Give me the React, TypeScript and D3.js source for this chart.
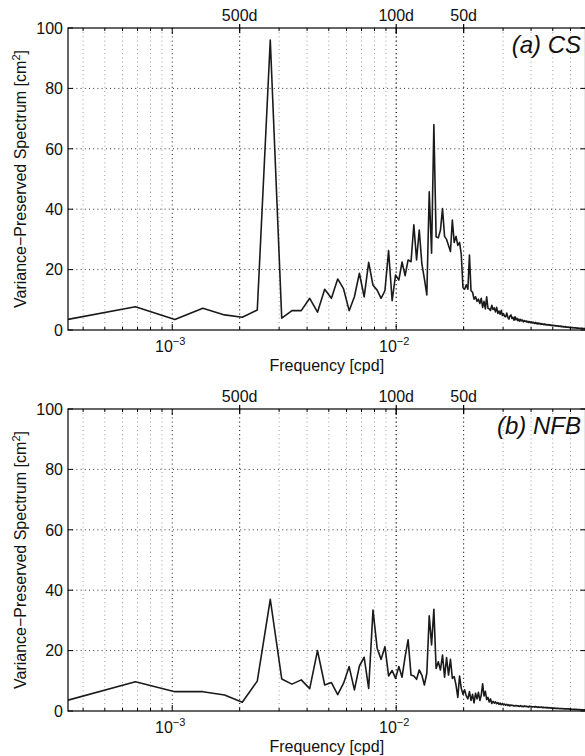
import React from "react";
import * as d3 from "d3";

// Frequency resolution of the spectra (8-year record): f_k = k * FREQ_STEP, k = 1..N
const FREQ_STEP = 1 / 2920;
const X_MAX = 0.07;

// (a) CS – variance-preserved spectrum [cm^2], k = 1..204
const csValues = [
  3.5, 7.7, 3.5, 7.2, 5.0, 4.2, 6.6, 96, 3.9, 6.4,
  6.4, 10.5, 5.9, 13.5, 10.5, 16.9, 13.6, 6.4, 11.0, 18.8,
  11.0, 22.4, 14.8, 13.2, 10.5, 13.0, 26.3, 9.7, 18.2, 16.5,
  22.5, 18.0, 23.2, 22.6, 34.8, 23.2, 33.1, 22.0, 17.0, 11.6,
  45.8, 25.4, 68.0, 30.9, 30.5, 33.0, 40.2, 31.0, 30.0, 28.0,
  26.0, 36.4, 29.0, 31.0, 28.0, 29.0, 25.0, 14.0, 13.5, 15.0,
  13.5, 24.8, 13.0, 12.5, 10.2, 11.0, 9.5, 10.2, 8.8, 10.5,
  7.5, 9.5, 7.0, 11.0, 7.2, 7.0, 6.5, 8.2, 6.8, 7.3,
  6.0, 7.5, 5.5, 6.3, 5.2, 6.5, 4.8, 5.4, 4.5, 4.4,
  5.6, 4.2, 3.6, 4.6, 5.0, 3.8, 4.2, 3.2, 4.4, 3.4,
  3.9, 3.1, 3.6, 2.9, 3.5, 3.0, 3.3, 2.7, 3.1, 2.8,
  3.0, 2.6, 2.9, 2.5, 2.8, 2.4, 2.7, 2.3, 2.6, 2.4,
  2.2, 2.5, 2.1, 2.4, 2.0, 2.3, 2.0, 2.2, 1.9, 2.1,
  1.9, 2.0, 1.8, 2.0, 1.7, 1.9, 1.7, 1.8, 1.6, 1.8,
  1.6, 1.7, 1.5, 1.6, 1.5, 1.6, 1.4, 1.5, 1.4, 1.5,
  1.3, 1.4, 1.3, 1.4, 1.2, 1.3, 1.2, 1.3, 1.1, 1.2,
  1.1, 1.2, 1.0, 1.1, 1.0, 1.1, 0.9, 1.0, 0.9, 1.0,
  0.9, 0.95, 0.8, 0.9, 0.8, 0.85, 0.75, 0.85, 0.7, 0.8,
  0.7, 0.75, 0.65, 0.7, 0.65, 0.7, 0.6, 0.65, 0.6, 0.65,
  0.55, 0.6, 0.55, 0.6, 0.5, 0.55, 0.5, 0.55, 0.5, 0.5,
  0.45, 0.5, 0.45, 0.45,
];

// (b) NFB – variance-preserved spectrum [cm^2], k = 1..204
const nfbValues = [
  3.6, 9.7, 6.4, 6.4, 5.3, 2.9, 9.9, 37.0, 10.6, 8.9,
  10.3, 7.4, 20.0, 8.6, 9.4, 5.4, 9.2, 14.7, 7.0, 14.9,
  17.8, 7.5, 33.4, 20.8, 17.1, 21.3, 11.6, 13.4, 10.8, 14.7,
  11.2, 18.0, 23.6, 11.9, 11.6, 10.5, 13.6, 11.9, 8.6, 12.5,
  31.5, 21.9, 33.7, 14.1, 16.3, 13.6, 18.5, 11.2, 17.7, 11.9,
  17.1, 10.8, 11.4, 8.6, 4.5, 11.6, 7.5, 5.5, 7.0, 5.0,
  4.0, 6.4, 3.5, 5.5, 2.7, 5.9, 4.0, 6.2, 3.5, 5.3,
  9.0, 5.0, 6.5, 3.8, 4.5, 3.0, 4.0, 2.5, 3.2, 2.6,
  3.0, 2.4, 2.8, 2.2, 2.6, 2.1, 2.5, 2.0, 2.3, 1.9,
  2.2, 1.8, 2.1, 1.7, 2.0, 1.8, 1.9, 1.6, 1.8, 1.7,
  1.8, 1.6, 1.7, 1.5, 1.8, 1.5, 1.6, 1.4, 1.7, 1.5,
  1.6, 1.4, 1.5, 1.3, 1.6, 1.4, 1.5, 1.3, 1.4, 1.4,
  1.3, 1.5, 1.3, 1.4, 1.2, 1.4, 1.2, 1.3, 1.2, 1.3,
  1.1, 1.3, 1.1, 1.2, 1.1, 1.2, 1.0, 1.2, 1.0, 1.1,
  1.0, 1.1, 0.95, 1.05, 0.9, 1.0, 0.9, 1.0, 0.85, 0.95,
  0.85, 0.9, 0.8, 0.9, 0.8, 0.85, 0.75, 0.85, 0.75, 0.8,
  0.75, 0.8, 0.7, 0.75, 0.7, 0.75, 0.65, 0.7, 0.65, 0.7,
  0.65, 0.7, 0.6, 0.65, 0.6, 0.65, 0.6, 0.6, 0.55, 0.6,
  0.55, 0.6, 0.5, 0.55, 0.5, 0.55, 0.5, 0.5, 0.45, 0.5,
  0.45, 0.5, 0.45, 0.45, 0.4, 0.45, 0.4, 0.45, 0.4, 0.4,
  0.4, 0.4, 0.35, 0.4,
];

const yTicks = [0, 20, 40, 60, 80, 100];
const decadeTicks = [1e-3, 1e-2];
const decadeExponents = ["−3", "−2"];
const periodDays = [500, 100, 50];
const periodLabels = ["500d", "100d", "50d"];
const panelLabels = ["(a) CS", "(b) NFB"];

const W = 585;
const H = 756;
const LEFT = 68;
const RIGHT = 585.5;
const PLOT_H = 302;
const PANEL_TOPS = [28, 409];
const FONT = "'Liberation Sans', Arial, Helvetica, sans-serif";

const x = d3.scaleLog().domain([FREQ_STEP, X_MAX]).range([LEFT, RIGHT]);
const minorTicks = x.ticks().filter((t) => {
  const l = Math.log10(t);
  return Math.abs(l - Math.round(l)) > 1e-6;
});

type PanelProps = { top: number; values: number[]; label: string; idx: number };

function Panel({ top, values, label, idx }: PanelProps) {
  const bottom = top + PLOT_H;
  const y = d3.scaleLinear().domain([0, 100]).range([bottom, top]);
  const data = values.map((v, i) => ({ f: (i + 1) * FREQ_STEP, v }));
  const line = d3
    .line<{ f: number; v: number }>()
    .x((d) => x(d.f))
    .y((d) => y(d.v));
  const clipId = `clip-${idx}`;
  const dot = "1,3.2";
  return (
    <g>
      <defs>
        <clipPath id={clipId}>
          <rect x={LEFT} y={top} width={RIGHT - LEFT} height={PLOT_H} />
        </clipPath>
      </defs>
      {/* minor vertical grid */}
      {minorTicks.map((t, i) => (
        <line
          key={`mg${i}`}
          x1={x(t)}
          x2={x(t)}
          y1={top}
          y2={bottom}
          stroke="#9a9a9a"
          strokeWidth={1}
          strokeDasharray={dot}
        />
      ))}
      {/* major vertical grid */}
      {decadeTicks.map((t, i) => (
        <line
          key={`Mg${i}`}
          x1={x(t)}
          x2={x(t)}
          y1={top}
          y2={bottom}
          stroke="#222"
          strokeWidth={1}
          strokeDasharray={dot}
        />
      ))}
      {periodDays.map((p, i) => (
        <line
          key={`pg${i}`}
          x1={x(1 / p)}
          x2={x(1 / p)}
          y1={top}
          y2={bottom}
          stroke="#222"
          strokeWidth={1}
          strokeDasharray={dot}
        />
      ))}
      {/* horizontal grid */}
      {yTicks
        .filter((t) => t > 0 && t < 100)
        .map((t) => (
          <line
            key={`hg${t}`}
            x1={LEFT}
            x2={RIGHT}
            y1={y(t)}
            y2={y(t)}
            stroke="#333"
            strokeWidth={1}
            strokeDasharray={dot}
          />
        ))}
      {/* data */}
      <path
        d={line(data) || ""}
        fill="none"
        stroke="#1a1a1a"
        strokeWidth={1.6}
        strokeLinejoin="round"
        clipPath={`url(#${clipId})`}
      />
      {/* frame */}
      <rect
        x={LEFT}
        y={top}
        width={RIGHT - LEFT}
        height={PLOT_H}
        fill="none"
        stroke="#000"
        strokeWidth={1.2}
      />
      {/* y ticks */}
      {yTicks.map((t) => (
        <g key={`yt${t}`}>
          <line x1={LEFT} x2={LEFT + 5} y1={y(t)} y2={y(t)} stroke="#000" />
          <line x1={RIGHT - 5} x2={RIGHT} y1={y(t)} y2={y(t)} stroke="#000" />
          <text
            x={LEFT - 5}
            y={y(t)}
            dy="0.36em"
            textAnchor="end"
            fontSize={16}
            fontFamily={FONT}
            fill="#111"
          >
            {t}
          </text>
        </g>
      ))}
      {/* minor x ticks top & bottom */}
      {minorTicks.map((t, i) => (
        <g key={`mt${i}`}>
          <line x1={x(t)} x2={x(t)} y1={bottom} y2={bottom - 3} stroke="#000" />
          <line x1={x(t)} x2={x(t)} y1={top} y2={top + 3} stroke="#000" />
        </g>
      ))}
      {/* major x ticks */}
      {decadeTicks.map((t, i) => (
        <g key={`Mt${i}`}>
          <line x1={x(t)} x2={x(t)} y1={bottom} y2={bottom - 6} stroke="#000" />
          <line x1={x(t)} x2={x(t)} y1={top} y2={top + 6} stroke="#000" />
          <text
            x={x(t) - 2}
            y={bottom + 22}
            textAnchor="middle"
            fontSize={16}
            fontFamily={FONT}
            fill="#111"
          >
            10
            <tspan dx={0} dy={-7} fontSize={11}>
              {decadeExponents[i]}
            </tspan>
          </text>
        </g>
      ))}
      {/* period ticks on top axis */}
      {periodDays.map((p, i) => (
        <g key={`pt${i}`}>
          <line
            x1={x(1 / p)}
            x2={x(1 / p)}
            y1={top - 4}
            y2={top + 5}
            stroke="#000"
            strokeWidth={1.2}
          />
          <text
            x={x(1 / p)}
            y={top - 7}
            textAnchor="middle"
            fontSize={16}
            fontFamily={FONT}
            fill="#111"
          >
            {periodLabels[i]}
          </text>
        </g>
      ))}
      {/* panel label */}
      <text
        x={581}
        y={top + 25}
        textAnchor="end"
        fontSize={24}
        fontStyle="italic"
        fontFamily={FONT}
        fill="#111"
      >
        {label}
      </text>
      {/* x axis label */}
      <text
        x={(LEFT + RIGHT) / 2}
        y={bottom + 41}
        textAnchor="middle"
        fontSize={16}
        fontFamily={FONT}
        fill="#111"
      >
        Frequency [cpd]
      </text>
      {/* y axis label */}
      <text
        transform={`translate(26, ${(top + bottom) / 2}) rotate(-90)`}
        textAnchor="middle"
        fontSize={16}
        fontFamily={FONT}
        fill="#111"
      >
        Variance−Preserved Spectrum [cm
        <tspan dy={-6} fontSize={11}>
          2
        </tspan>
        <tspan dy={6}>]</tspan>
      </text>
    </g>
  );
}

export default function App() {
  const series = [csValues, nfbValues];
  return (
    <svg
      width={W}
      height={H}
      viewBox={`0 0 ${W} ${H}`}
      style={{ position: "absolute", left: 0, top: 0, background: "#fff" }}
    >
      <rect x={0} y={0} width={W} height={H} fill="#fff" />
      {PANEL_TOPS.map((t, i) => (
        <Panel key={i} idx={i} top={t} values={series[i]} label={panelLabels[i]} />
      ))}
    </svg>
  );
}
